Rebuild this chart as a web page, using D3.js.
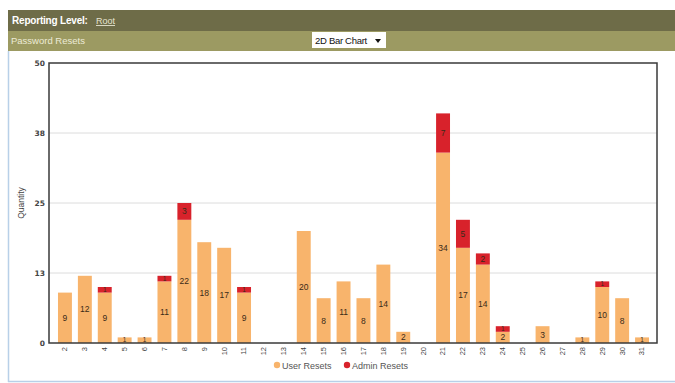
<!DOCTYPE html>
<html><head><meta charset="utf-8">
<script src="https://cdn.jsdelivr.net/npm/d3@7"></script>
<style>
html,body{margin:0;padding:0;background:#fff;}
svg{display:block;font-family:"Liberation Sans",Arial,sans-serif;}
</style></head>
<body>
<svg id="c" width="675" height="383"></svg>
<script>
const categories = ["2","3","4","5","6","7","8","9","10","11","12","13","14","15","16","17","18","19","20","21","22","23","24","25","26","27","28","29","30","31"];
const userResets  = [9,12,9,1,1,11,22,18,17,9,0,0,20,8,11,8,14,2,0,34,17,14,2,0,3,0,1,10,8,1];
const adminResets = [0,0,1,0,0,1,3,0,0,1,0,0,0,0,0,0,0,0,0,7,5,2,1,0,0,0,0,1,0,0];
const yTicks = [0,12.5,25,37.5,50];
const seriesNames = ["User Resets","Admin Resets"];
const colors = ["#F8B46C","#D8222B"];

const svg = d3.select("#c");

// page frame
svg.append("rect").attr("x",8).attr("y",10).attr("width",667).attr("height",21).attr("fill","#6E6C48");
svg.append("rect").attr("x",8).attr("y",31).attr("width",667).attr("height",20).attr("fill","#9C9A62");
svg.append("line").attr("x1",8.5).attr("x2",8.5).attr("y1",51).attr("y2",382).attr("stroke","#B8D0E8").attr("stroke-width",1.5);
svg.append("line").attr("x1",8).attr("x2",675).attr("y1",381.5).attr("y2",381.5).attr("stroke","#B8D0E8").attr("stroke-width",1.5);

svg.append("text").attr("x",12).attr("y",24).attr("fill","#fff").attr("font-size",10).attr("font-weight","bold").attr("letter-spacing","-0.2").text("Reporting Level:");
svg.append("text").attr("x",96).attr("y",24).attr("fill","#E6E4D0").attr("font-size",9).attr("text-decoration","underline").text("Root");
svg.append("text").attr("x",11).attr("y",44).attr("fill","#ECEBD6").attr("font-size",9.5).text("Password Resets");
svg.append("rect").attr("x",312).attr("y",32).attr("width",74).attr("height",16).attr("fill","#fff");
svg.append("text").attr("x",315).attr("y",44).attr("fill","#111").attr("font-size",9.5).attr("letter-spacing","-0.3").text("2D Bar Chart");
svg.append("path").attr("d","M375,39 L381,39 L378,43 Z").attr("fill","#111");

// chart
const pL=49, pR=657, pT=63, pB=343;
const x = d3.scaleBand().domain(categories).range([55,652]).paddingInner(0.3).paddingOuter(0.15);
const y = d3.scaleLinear().domain([0,50]).range([pB,pT]);

// gridlines
svg.append("g").selectAll("line").data(yTicks.slice(1,4)).join("line")
  .attr("x1",pL).attr("x2",pR).attr("y1",d=>y(d)).attr("y2",d=>y(d))
  .attr("stroke","#DCDCDC").attr("stroke-width",1);

const data = categories.map((c,i)=>({cat:c,u:userResets[i],a:adminResets[i]}));
const stack = d3.stack().keys(["u","a"])(data);

stack.forEach((layer,li)=>{
  const g = svg.append("g");
  const segs = layer.filter(d=>d[1]-d[0]>0);
  g.selectAll("rect").data(segs).join("rect")
    .attr("x",d=>x(d.data.cat)).attr("width",x.bandwidth())
    .attr("y",d=>y(d[1])).attr("height",d=>y(d[0])-y(d[1]))
    .attr("fill",colors[li]);
  g.selectAll("text").data(segs).join("text")
    .attr("x",d=>x(d.data.cat)+x.bandwidth()/2)
    .attr("y",d=>{
      const h=y(d[0])-y(d[1]);
      return (y(d[0])+y(d[1]))/2 + (h<7 ? 2.2 : 3);
    })
    .attr("text-anchor","middle")
    .attr("font-size",d=>(y(d[0])-y(d[1]))<7 ? 6.5 : 8.5)
    .attr("fill","#3A2A18")
    .text(d=>d[1]-d[0]);
});

// frame
svg.append("rect").attr("x",pL).attr("y",pT).attr("width",pR-pL).attr("height",pB-pT)
  .attr("fill","none").attr("stroke","#3A3A3A").attr("stroke-width",1.5);

// y axis
const yAxis = svg.append("g").attr("transform",`translate(${pL},0)`)
  .call(d3.axisLeft(y).tickValues(yTicks).tickSize(0).tickPadding(4).tickFormat(d=>Math.round(d)));
yAxis.select(".domain").remove();
yAxis.selectAll("text").attr("font-size",7.5).attr("font-weight","bold").attr("fill","#444").attr("font-family","DejaVu Sans, sans-serif");

// x axis
const xAxis = svg.append("g").attr("transform",`translate(0,${pB})`)
  .call(d3.axisBottom(x).tickSize(0).tickPadding(0));
xAxis.select(".domain").remove();
xAxis.selectAll("text").attr("font-size",7.5).attr("fill","#444")
  .attr("transform","rotate(-90)").attr("text-anchor","end").attr("dx","-4").attr("dy","0.32em").attr("y",0);

svg.append("text").attr("transform","translate(24,203) rotate(-90)").attr("text-anchor","middle")
  .attr("font-size",8.5).attr("fill","#444").text("Quantity");

// legend
const leg = svg.append("g");
const legX = [277,347];
seriesNames.forEach((n,i)=>{
  leg.append("circle").attr("cx",legX[i]).attr("cy",365).attr("r",3.2).attr("fill",colors[i]);
  leg.append("text").attr("x",legX[i]+5).attr("y",368.5).attr("font-size",9).attr("fill","#555").text(n);
});
</script>
</body></html>
